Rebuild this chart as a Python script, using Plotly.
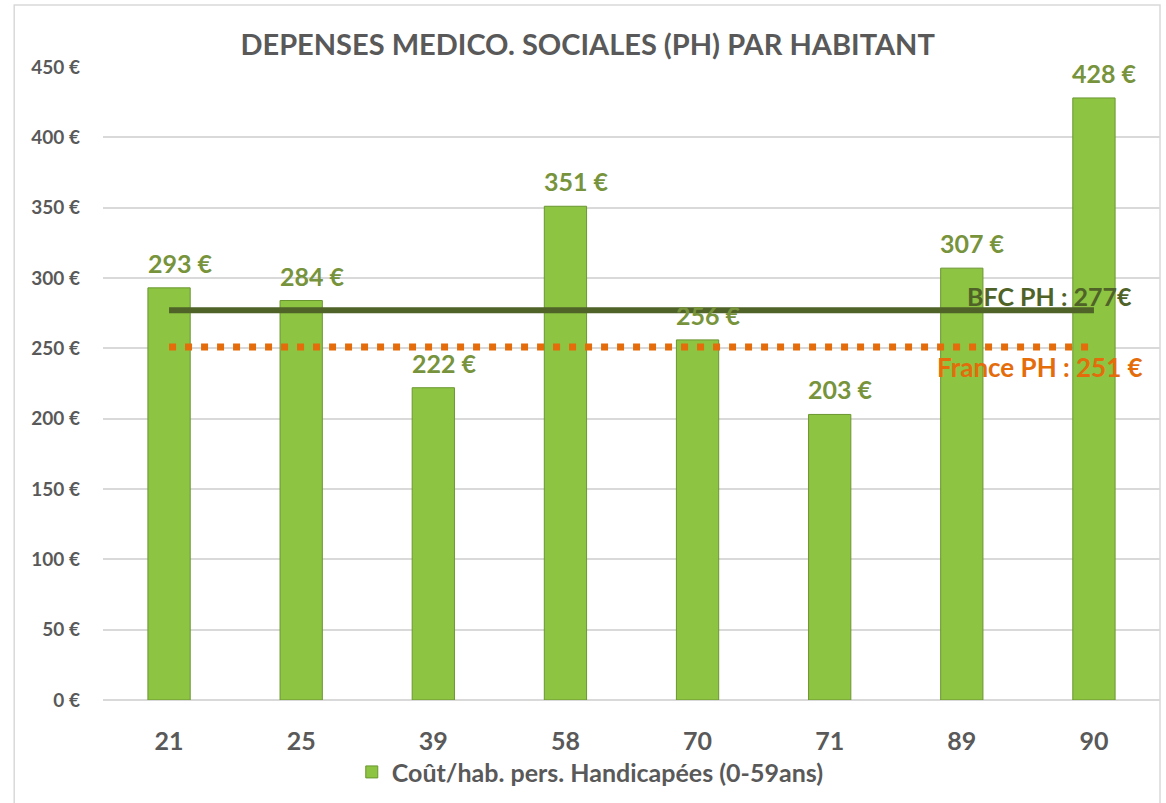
import plotly.graph_objects as go

categories = ["21", "25", "39", "58", "70", "71", "89", "90"]
values = [293, 284, 222, 351, 256, 203, 307, 428]
bfc_value = 277
france_value = 251
series_name = "Coût/hab. pers. Handicapées (0-59ans)"
title_text = "DEPENSES MEDICO. SOCIALES (PH) PAR HABITANT"
bfc_label = "BFC PH : 277€"
france_label = "France PH : 251 €"
y_ticks = [0, 50, 100, 150, 200, 250, 300, 350, 400, 450]

FONT = "Lato"
GRAY = "#595959"

fig = go.Figure()

fig.add_trace(go.Bar(
    x=categories, y=values, name=series_name,
    width=0.32,
    marker=dict(color="#8DC442", line=dict(color="#6A9630", width=1)),
    cliponaxis=False,
))

# data labels placed through the category axis (by category index)
for i, val in enumerate(values):
    fig.add_annotation(
        x=i, y=val, xref="x", yref="y",
        text=f"{val} €", showarrow=False,
        xanchor="center", yanchor="bottom", xshift=11, yshift=8,
        font=dict(family=FONT, size=25, color="#77933C", weight="bold"),
    )

fig.add_trace(go.Scatter(
    x=[categories[0], categories[-1]], y=[bfc_value, bfc_value],
    mode="lines", line=dict(color="#4F6228", width=6),
    showlegend=False, hoverinfo="skip",
))

fig.add_trace(go.Scatter(
    x=[categories[0], categories[-1]], y=[france_value, france_value],
    mode="lines", line=dict(color="#E46C0A", width=7, dash="7px,9px"),
    showlegend=False, hoverinfo="skip",
))

fig.add_annotation(
    x=0.975, xref="paper", y=bfc_value + 10, yref="y",
    text=bfc_label, showarrow=False, xanchor="right", yanchor="middle",
    font=dict(family=FONT, size=25, color="#4F6228", weight="bold"),
)
fig.add_annotation(
    x=0.986, xref="paper", y=france_value - 14, yref="y",
    text=france_label, showarrow=False, xanchor="right", yanchor="middle",
    font=dict(family=FONT, size=26, color="#E46C0A", weight="bold"),
)

fig.add_shape(
    type="rect", xref="paper", yref="paper",
    x0=-0.084, x1=1.0, y0=-0.2, y1=1.098,
    line=dict(color="#D9D9D9", width=1.5), fillcolor="rgba(0,0,0,0)",
    layer="below",
)

fig.update_layout(
    width=1166, height=803,
    margin=dict(l=103, r=6, t=67, b=103, autoexpand=False),
    paper_bgcolor="white", plot_bgcolor="white",
    title=dict(
        text=title_text, x=0.504, xanchor="center", y=0.944, yanchor="middle",
        xref="container", yref="container",
        font=dict(family=FONT, size=29, color=GRAY, weight="bold"),
    ),
    showlegend=True,
    legend=dict(
        orientation="h", x=0.461, xanchor="center", y=-0.114, yanchor="middle",
        font=dict(family=FONT, size=25, color=GRAY, weight="bold"),
        bgcolor="rgba(0,0,0,0)", itemwidth=30,
    ),
)

fig.update_xaxes(
    type="category", automargin=False,
    range=[-0.5, len(categories) - 0.5],
    tickfont=dict(family=FONT, size=25, color=GRAY, weight="bold"),
    ticklabelstandoff=24,
    showgrid=False, showline=False, ticks="",
)
fig.update_yaxes(
    range=[0, 450], tickvals=y_ticks, automargin=False,
    ticktext=[f"{v} €" for v in y_ticks],
    tickfont=dict(family=FONT, size=19, color=GRAY, weight="bold"),
    ticklabelstandoff=22,
    showgrid=True, gridcolor="#D9D9D9", gridwidth=1.5,
    zeroline=True, zerolinecolor="#D9D9D9", zerolinewidth=1.5,
    showline=False, ticks="",
)

fig.write_html(
    "out.html",
    config={"displayModeBar": False},
    post_script="document.body.style.margin='0px';",
)
